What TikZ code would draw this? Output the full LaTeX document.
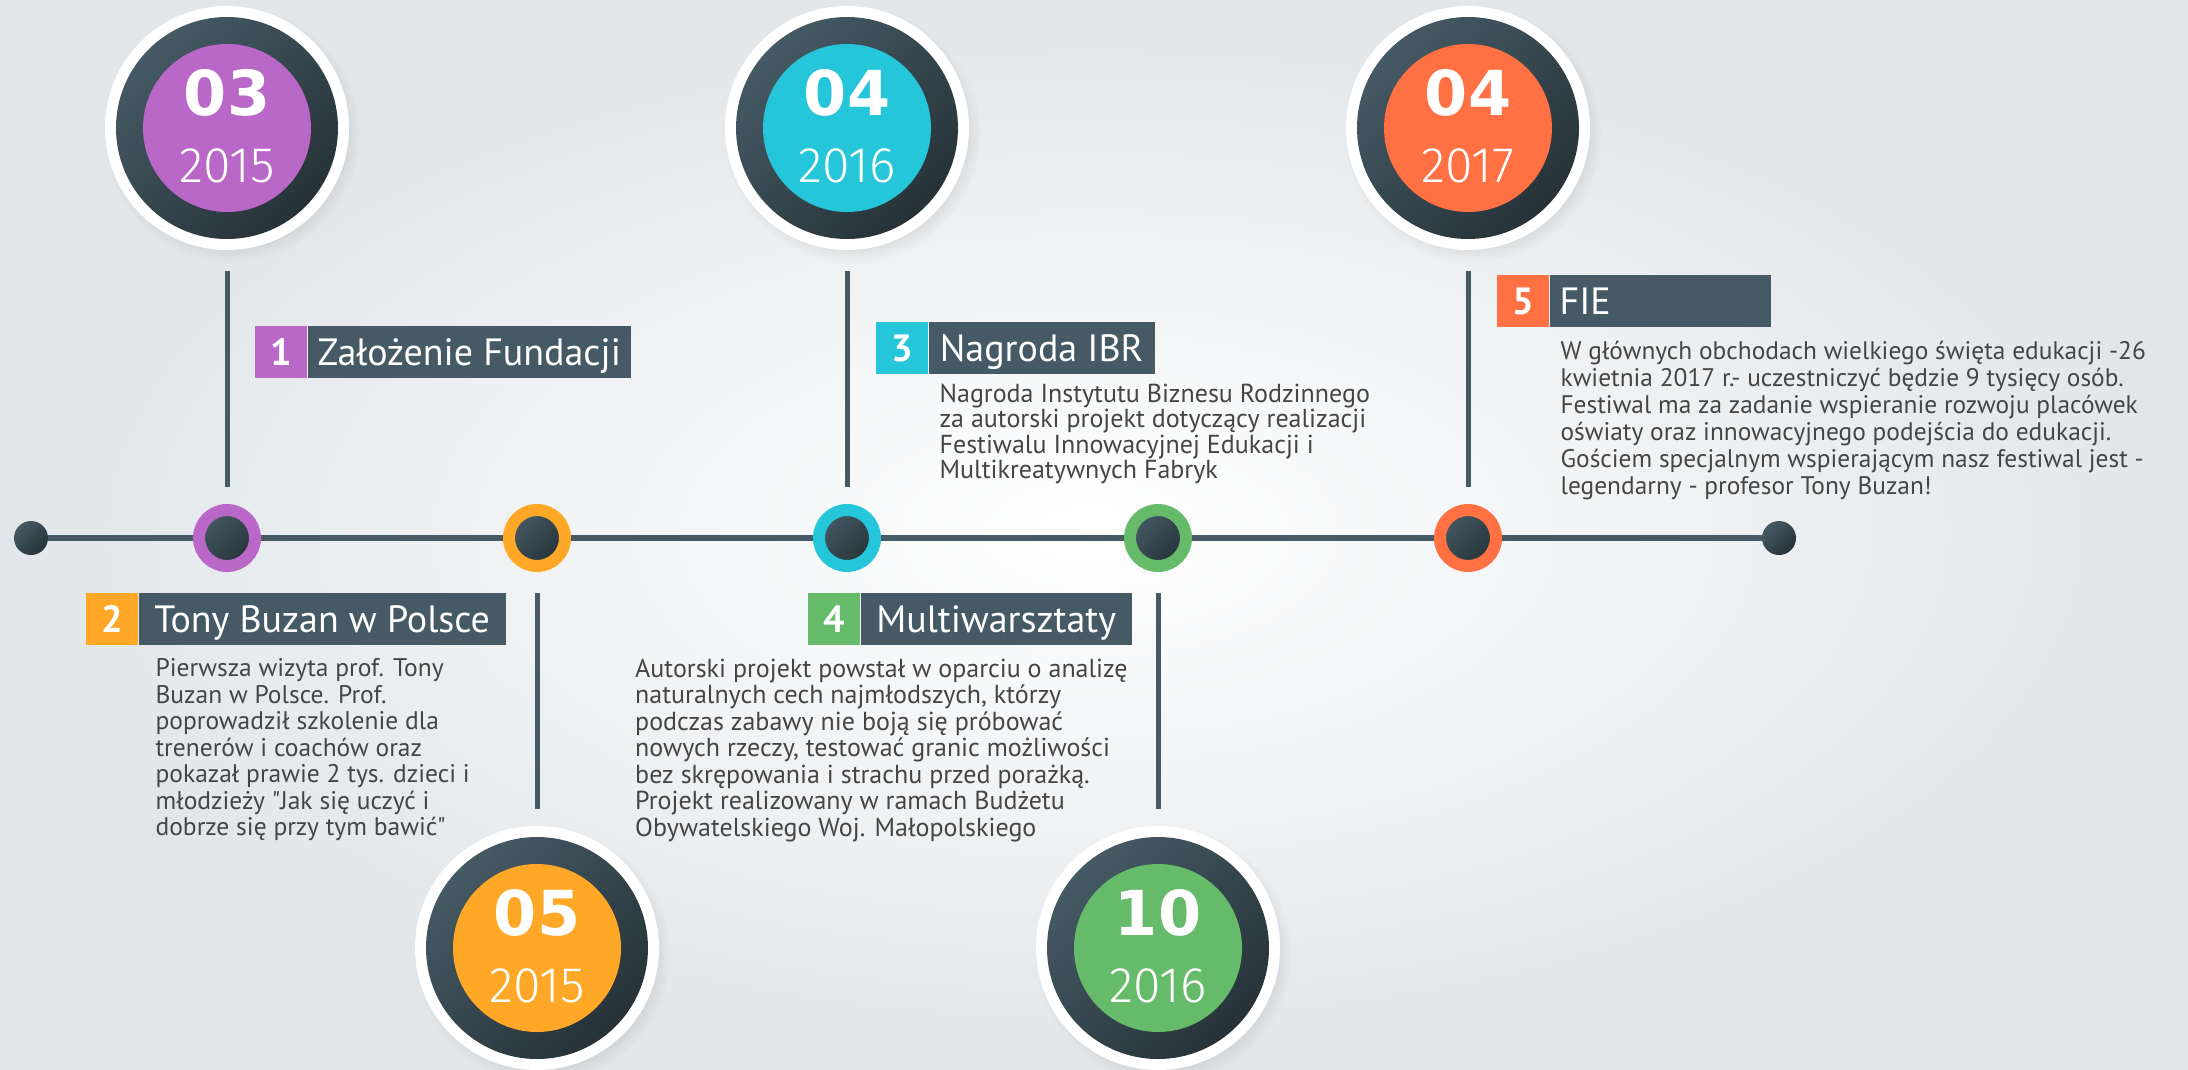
\documentclass[tikz,border=0pt]{standalone}
\usepackage{fontspec}
\setmainfont{PT Sans}[Ligatures=TeXOff]
\newfontfamily\monthfont{DejaVu Sans}
\newfontfamily\yearfont{Fira Sans Light}
\usetikzlibrary{positioning,shadows}

\definecolor{slate}{HTML}{455A64}
\definecolor{slatedark}{HTML}{263238}
\definecolor{bodygray}{HTML}{454545}
\definecolor{bgedge}{HTML}{E2E6E9}
\definecolor{cpurple}{HTML}{BA68C8}
\definecolor{corange}{HTML}{FFA726}
\definecolor{ccyan}{HTML}{26C6DA}
\definecolor{cgreen}{HTML}{66BB6A}
\definecolor{cdeep}{HTML}{FF7043}

\begin{document}
\begin{tikzpicture}[
    x=1pt, y=-1pt, % pixel units, y pointing down
    halo/.style={circle, fill=white, minimum size=244pt, inner sep=0pt, outer sep=0pt,
      circular drop shadow={shadow scale=1.05, shadow xshift=5pt, shadow yshift=-6pt, opacity=0.2}},
    rim/.style={circle, minimum size=222pt, inner sep=0pt,
      top color=slate, bottom color=slatedark, shading angle=45},
    face/.style={circle, minimum size=168pt, inner sep=0pt, fill=#1},
    month/.style={anchor=base, text=white, font=\monthfont\bfseries\fontsize{62}{62}\selectfont},
    year/.style={anchor=base, text=white, font=\yearfont\fontsize{50}{50}\selectfont},
    ring/.style={circle, minimum size=56pt, inner sep=0pt, outer sep=6pt, draw=#1, line width=12pt,
      top color=slate, bottom color=slatedark, shading angle=45},
    enddot/.style={circle, minimum size=34pt, inner sep=0pt,
      top color=slate, bottom color=slatedark, shading angle=45},
    spine/.style={draw=slate, line width=6pt},
    stem/.style={draw=slate, line width=5pt, shorten <=21pt, shorten >=17pt},
    numsq/.style={fill=#1, text=white, minimum width=52pt, minimum height=52pt, inner sep=0pt,
      text height=39pt, text depth=13pt, anchor=north west, font=\bfseries\fontsize{38}{38}\selectfont},
    titlebar/.style={fill=slate, text=white, minimum height=52pt, inner xsep=10pt, inner ysep=0pt,
      text height=39pt, text depth=13pt, font=\fontsize{38}{38}\selectfont},
    bodytext/.style={align=left, inner sep=0pt, text=bodygray, font=\fontsize{25.5}{26.5}\selectfont},
  ]
  \useasboundingbox (0,0) rectangle (2188,1069);
  \shade[inner color=white, outer color=bgedge] (0,0) rectangle (2188,1069);

  % timeline
  \node[enddot] (start) at (31,538) {};
  \node[enddot] (finish) at (1779,538) {};
  \draw[spine] (start) -- (finish);

  \node[ring=cpurple] (r1) at (227,538) {};
  \node[ring=corange] (r2) at (537,538) {};
  \node[ring=ccyan] (r3) at (847,538) {};
  \node[ring=cgreen] (r4) at (1158,538) {};
  \node[ring=cdeep] (r5) at (1468,538) {};

  % date badges
  \node[halo] (h1) at (227,128) {};
  \node[rim] (k1) at (h1) {};
  \node[face=cpurple] (f1) at (h1) {};
  \node[month] (m1) at ([yshift=13pt]f1.center) {03};
  \node[year] (y1) at ([yshift=-54pt]f1.center) {2015};

  \node[halo] (h2) at (537,948) {};
  \node[rim] (k2) at (h2) {};
  \node[face=corange] (f2) at (h2) {};
  \node[month] (m2) at ([yshift=13pt]f2.center) {05};
  \node[year] (y2) at ([yshift=-54pt]f2.center) {2015};

  \node[halo] (h3) at (847,128) {};
  \node[rim] (k3) at (h3) {};
  \node[face=ccyan] (f3) at (h3) {};
  \node[month] (m3) at ([yshift=13pt]f3.center) {04};
  \node[year] (y3) at ([yshift=-54pt]f3.center) {2016};

  \node[halo] (h4) at (1158,948) {};
  \node[rim] (k4) at (h4) {};
  \node[face=cgreen] (f4) at (h4) {};
  \node[month] (m4) at ([yshift=13pt]f4.center) {10};
  \node[year] (y4) at ([yshift=-54pt]f4.center) {2016};

  \node[halo] (h5) at (1468,128) {};
  \node[rim] (k5) at (h5) {};
  \node[face=cdeep] (f5) at (h5) {};
  \node[month] (m5) at ([yshift=13pt]f5.center) {04};
  \node[year] (y5) at ([yshift=-54pt]f5.center) {2017};

  % stems
  \draw[stem] (h1) -- (r1);
  \draw[stem] (r2) -- (h2);
  \draw[stem] (h3) -- (r3);
  \draw[stem] (r4) -- (h4);
  \draw[stem] (h5) -- (r5);

  % event 1
  \node[numsq=cpurple] (n1) at (255,326) {1};
  \node[titlebar, minimum width=323pt, right=0pt of n1] (t1) {Założenie Fundacji};

  % event 2
  \node[numsq=corange] (n2) at (86,593) {2};
  \node[titlebar, minimum width=367pt, right=0pt of n2] (t2) {Tony Buzan w Polsce};
  \node[bodytext, below right=13pt and 17pt of t2.south west] (b2) {Pierwsza wizyta prof. Tony\\
    Buzan w Polsce. Prof.\\
    poprowadził szkolenie dla\\
    trenerów i coachów oraz\\
    pokazał prawie 2 tys. dzieci i\\
    młodzieży "Jak się uczyć i\\
    dobrze się przy tym bawić"};

  % event 3
  \node[numsq=ccyan] (n3) at (876,322) {3};
  \node[titlebar, minimum width=226pt, right=0pt of n3] (t3) {Nagroda IBR};
  \node[bodytext, font=\fontsize{26}{25.5}\selectfont, below right=9pt and 11pt of t3.south west] (b3) {Nagroda Instytutu Biznesu Rodzinnego\\
    za autorski projekt dotyczący realizacji\\
    Festiwalu Innowacyjnej Edukacji i\\
    Multikreatywnych Fabryk};

  % event 4
  \node[numsq=cgreen] (n4) at (808,593) {4};
  \node[titlebar, minimum width=271pt, right=0pt of n4] (t4) {Multiwarsztaty};
  \node[bodytext, font=\fontsize{26}{26.5}\selectfont, below left=13pt and 4pt of t4.south east] (b4) {Autorski projekt powstał w oparciu o analizę\\
    naturalnych cech najmłodszych, którzy\\
    podczas zabawy nie boją się próbować\\
    nowych rzeczy, testować granic możliwości\\
    bez skrępowania i strachu przed porażką.\\
    Projekt realizowany w ramach Budżetu\\
    Obywatelskiego Woj. Małopolskiego};

  % event 5
  \node[numsq=cdeep] (n5) at (1497,275) {5};
  \node[titlebar, text width=201pt, align=left, right=0pt of n5] (t5) {FIE};
  \node[bodytext, font=\fontsize{25.4}{27}\selectfont, below right=14pt and 11pt of t5.south west] (b5) {W głównych obchodach wielkiego święta edukacji -26\\
    kwietnia 2017 r.- uczestniczyć  będzie 9 tysięcy osób.\\
    Festiwal ma za zadanie wspieranie rozwoju placówek\\
    oświaty oraz innowacyjnego podejścia do edukacji.\\
    Gościem specjalnym wspierającym nasz festiwal jest -\\
    legendarny - profesor Tony Buzan!};
\end{tikzpicture}
\end{document}
